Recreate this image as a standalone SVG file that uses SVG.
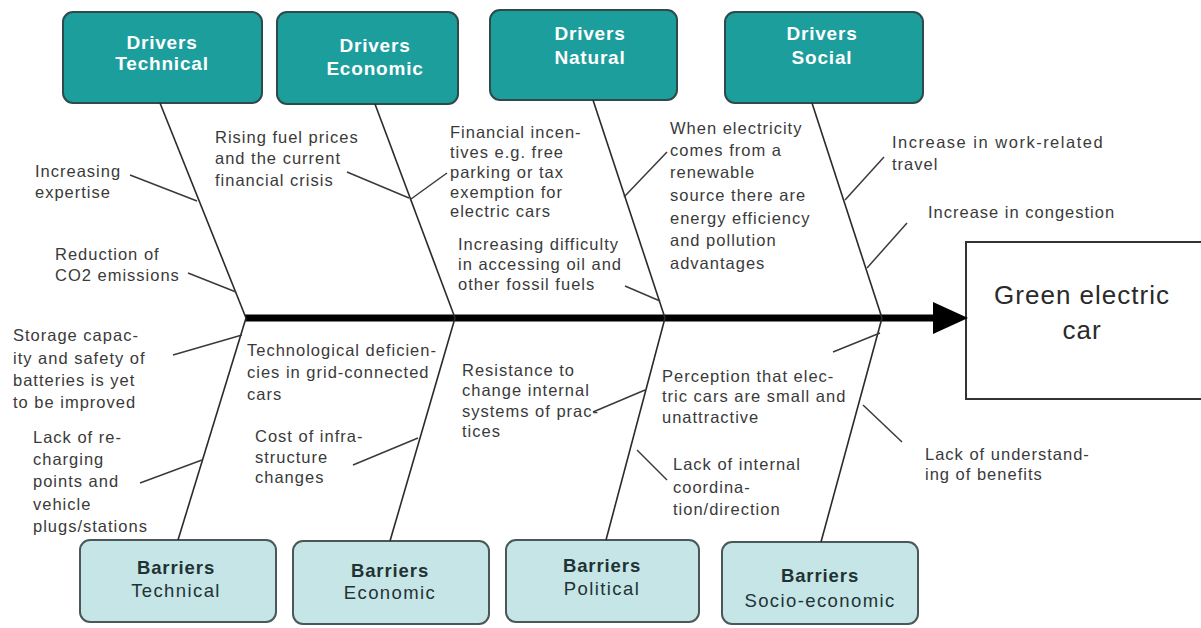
<svg xmlns="http://www.w3.org/2000/svg" width="1201" height="628" viewBox="0 0 1201 628">
<style>
.drv{fill:#1c9e9c;stroke:#2f4a4a;stroke-width:2}
.bar{fill:#c6e5e7;stroke:#4a5858;stroke-width:2}
.dt{font-family:"Liberation Sans",Arial,sans-serif;font-size:19px;font-weight:bold;fill:#ffffff;text-anchor:middle;letter-spacing:0.8px}
.bt{font-family:"Liberation Sans",Arial,sans-serif;font-size:18.5px;fill:#1f3334;text-anchor:middle;letter-spacing:1.4px}
.btb{font-weight:bold;letter-spacing:0.9px}
.lb{font-family:"Liberation Sans",Arial,sans-serif;font-size:16.5px;fill:#3a3a3a;letter-spacing:1px}
.bone{stroke:#2a2a2a;stroke-width:1.6;fill:none}
.rib{stroke:#3a3a3a;stroke-width:1.5;fill:none}
</style>

<g id="drivers-technical">
<rect class="drv" x="63" y="12" width="199" height="91" rx="10"/>
<text class="dt" x="162" y="49">Drivers</text>
<text class="dt" x="162" y="70">Technical</text>
</g>
<g id="drivers-economic">
<rect class="drv" x="277" y="12" width="181" height="92" rx="10"/>
<text class="dt" x="375" y="52">Drivers</text>
<text class="dt" x="375" y="75">Economic</text>
</g>
<g id="drivers-natural">
<rect class="drv" x="490" y="10" width="187" height="90" rx="10"/>
<text class="dt" x="590" y="40">Drivers</text>
<text class="dt" x="590" y="64">Natural</text>
</g>
<g id="drivers-social">
<rect class="drv" x="725" y="12" width="198" height="91" rx="10"/>
<text class="dt" x="822" y="40">Drivers</text>
<text class="dt" x="822" y="64">Social</text>
</g>

<g id="barriers-technical">
<rect class="bar" x="80" y="540" width="196" height="82" rx="10"/>
<text class="bt btb" x="176" y="574">Barriers</text>
<text class="bt" x="176" y="597">Technical</text>
</g>
<g id="barriers-economic">
<rect class="bar" x="293" y="541" width="196" height="83" rx="10"/>
<text class="bt btb" x="390" y="577">Barriers</text>
<text class="bt" x="390" y="599">Economic</text>
</g>
<g id="barriers-political">
<rect class="bar" x="506" y="540" width="193" height="82" rx="10"/>
<text class="bt btb" x="602" y="572">Barriers</text>
<text class="bt" x="602" y="595">Political</text>
</g>
<g id="barriers-socio-economic">
<rect class="bar" x="722" y="542" width="196" height="82" rx="10"/>
<text class="bt btb" x="820" y="582">Barriers</text>
<text class="bt" x="820" y="607">Socio-economic</text>
</g>

<g id="green-electric-car">
<rect x="966" y="242" width="240" height="157" fill="#ffffff" stroke="#333333" stroke-width="2"/>
<text x="1082" y="304" font-family="'Liberation Sans',Arial,sans-serif" font-size="26" fill="#2a2a2a" text-anchor="middle" letter-spacing="1">Green electric</text>
<text x="1082" y="339" font-family="'Liberation Sans',Arial,sans-serif" font-size="26" fill="#2a2a2a" text-anchor="middle" letter-spacing="1">car</text>
</g>

<g id="connectors">
<line x1="245" y1="318" x2="936" y2="318" stroke="#000" stroke-width="7"/>
<polygon points="933,302 968,318 933,334" fill="#000"/>
<line class="bone" x1="160" y1="103" x2="246" y2="318"/>
<line class="bone" x1="375" y1="104" x2="455" y2="318"/>
<line class="bone" x1="593" y1="100" x2="665" y2="318"/>
<line class="bone" x1="812" y1="103" x2="882" y2="318"/>
<line class="bone" x1="246" y1="318" x2="178" y2="540"/>
<line class="bone" x1="455" y1="318" x2="390" y2="541"/>
<line class="bone" x1="665" y1="318" x2="606" y2="540"/>
<line class="bone" x1="882" y1="318" x2="821" y2="542"/>
<line class="rib" x1="130" y1="175" x2="197" y2="201"/>
<line class="rib" x1="188" y1="273" x2="236" y2="292"/>
<line class="rib" x1="347" y1="172" x2="409" y2="198"/>
<line class="rib" x1="411" y1="199" x2="447" y2="173"/>
<line class="rib" x1="625" y1="286" x2="660" y2="301"/>
<line class="rib" x1="624" y1="197" x2="667" y2="152"/>
<line class="rib" x1="845" y1="200" x2="884" y2="157"/>
<line class="rib" x1="867" y1="268" x2="907" y2="223"/>
<line class="rib" x1="173" y1="355" x2="242" y2="335"/>
<line class="rib" x1="140" y1="483" x2="202" y2="460"/>
<line class="rib" x1="353" y1="465" x2="418" y2="438"/>
<line class="rib" x1="593" y1="412" x2="645" y2="390"/>
<line class="rib" x1="637" y1="450" x2="667" y2="480"/>
<line class="rib" x1="833" y1="352" x2="880" y2="333"/>
<line class="rib" x1="863" y1="405" x2="902" y2="442"/>
</g>

<g id="labels">
<text class="lb" x="35" y="177">Increasing</text>
<text class="lb" x="35" y="198">expertise</text>
<text class="lb" x="55" y="260">Reduction of</text>
<text class="lb" x="55" y="281">CO2 emissions</text>
<text class="lb" x="215" y="143">Rising fuel prices</text>
<text class="lb" x="215" y="164">and the current</text>
<text class="lb" x="215" y="186">financial crisis</text>
<text class="lb" x="450" y="138">Financial incen-</text>
<text class="lb" x="450" y="158">tives e.g. free</text>
<text class="lb" x="450" y="178">parking or tax</text>
<text class="lb" x="450" y="198">exemption for</text>
<text class="lb" x="450" y="217">electric cars</text>
<text class="lb" x="458" y="250">Increasing difficulty</text>
<text class="lb" x="458" y="270">in accessing oil and</text>
<text class="lb" x="458" y="290">other fossil fuels</text>
<text class="lb" x="670" y="134">When electricity</text>
<text class="lb" x="670" y="156">comes from a</text>
<text class="lb" x="670" y="178">renewable</text>
<text class="lb" x="670" y="201">source there are</text>
<text class="lb" x="670" y="224">energy efficiency</text>
<text class="lb" x="670" y="246">and pollution</text>
<text class="lb" x="670" y="269">advantages</text>
<text class="lb" x="892" y="148" style="letter-spacing:1.5px">Increase in work-related</text>
<text class="lb" x="892" y="170">travel</text>
<text class="lb" x="928" y="218">Increase in congestion</text>
<text class="lb" x="13" y="341">Storage capac-</text>
<text class="lb" x="13" y="364">ity and safety of</text>
<text class="lb" x="13" y="386">batteries is yet</text>
<text class="lb" x="13" y="408">to be improved</text>
<text class="lb" x="33" y="443">Lack of re-</text>
<text class="lb" x="33" y="465">charging</text>
<text class="lb" x="33" y="487">points and</text>
<text class="lb" x="33" y="510">vehicle</text>
<text class="lb" x="33" y="532">plugs/stations</text>
<text class="lb" x="247" y="356">Technological deficien-</text>
<text class="lb" x="247" y="378">cies in grid-connected</text>
<text class="lb" x="247" y="400">cars</text>
<text class="lb" x="255" y="442">Cost of infra-</text>
<text class="lb" x="255" y="463">structure</text>
<text class="lb" x="255" y="483">changes</text>
<text class="lb" x="462" y="376">Resistance to</text>
<text class="lb" x="462" y="396">change internal</text>
<text class="lb" x="462" y="417">systems of prac-</text>
<text class="lb" x="462" y="437">tices</text>
<text class="lb" x="662" y="382">Perception that elec-</text>
<text class="lb" x="662" y="402">tric cars are small and</text>
<text class="lb" x="662" y="423">unattractive</text>
<text class="lb" x="673" y="470">Lack of internal</text>
<text class="lb" x="673" y="493">coordina-</text>
<text class="lb" x="673" y="515">tion/direction</text>
<text class="lb" x="925" y="460">Lack of understand-</text>
<text class="lb" x="925" y="480">ing of benefits</text>
</g>
</svg>
